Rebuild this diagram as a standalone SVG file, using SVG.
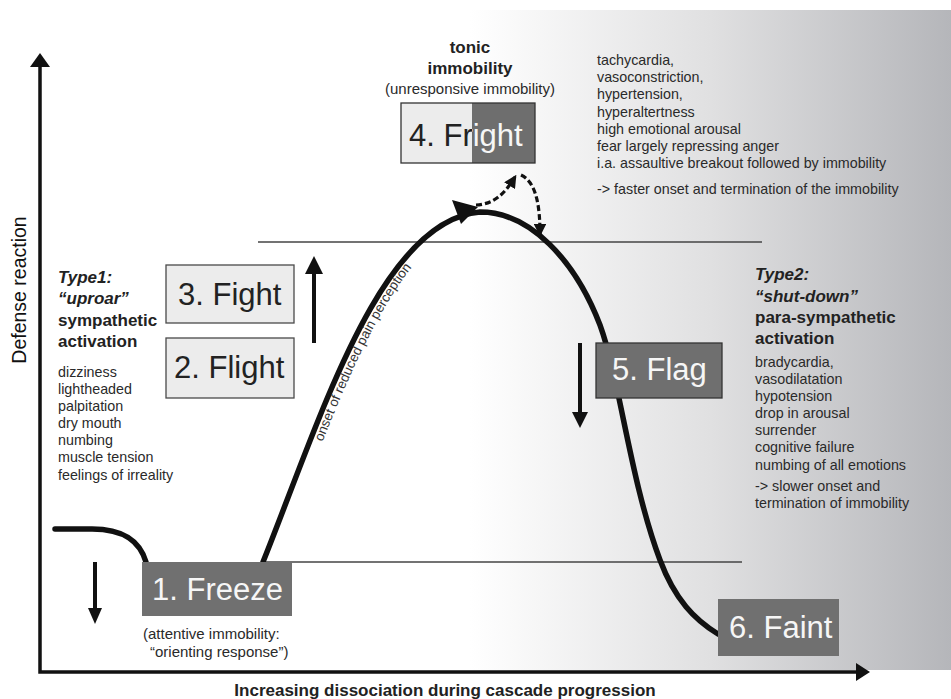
<svg xmlns="http://www.w3.org/2000/svg" width="951" height="699" viewBox="0 0 951 699">
<style>
text{font-family:"Liberation Sans",Arial,sans-serif;}
.h{font-weight:bold;font-size:17px;fill:#222;}
.hi{font-weight:bold;font-style:italic;font-size:17px;fill:#222;}
.l{font-size:14.3px;fill:#2a2a2a;}
.cap{font-size:15px;fill:#2a2a2a;}
.big{font-size:31px;}
.dark{fill:#222;}
.light{fill:#f6f6f6;}
.axis{stroke:#111;stroke-width:3.5;fill:none;}
.ah{fill:#111;}
.curve{stroke:#111;stroke-width:5.5;fill:none;stroke-linecap:round;}
.dash{stroke:#111;stroke-width:3.2;fill:none;stroke-dasharray:6 3;}
.thin{stroke:#444;stroke-width:1.3;}
.sm{stroke:#111;stroke-width:4;}
.boxL{fill:#ececec;stroke:#4a4a4a;stroke-width:1.3;}
.boxD{fill:#707070;}
</style>
<defs>
<linearGradient id="bg" x1="0" y1="0" x2="1" y2="0">
<stop offset="0" stop-color="#ffffff"/>
<stop offset="0.5" stop-color="#e0e0e1"/>
<stop offset="1" stop-color="#b5b6ba"/>
</linearGradient>
<marker id="dh" viewBox="0 0 10 10" refX="8" refY="5" markerWidth="4" markerHeight="4" orient="auto" markerUnits="strokeWidth">
<path d="M0,0 L10,5 L0,10 z" fill="#111"/>
</marker>
<clipPath id="cl"><rect x="401" y="103" width="71" height="60"/></clipPath>
<clipPath id="cr"><rect x="472" y="103" width="63" height="60"/></clipPath>
<path id="tp" d="M 274 567 C 331 425 391 225 491 215"/>
</defs>

<rect x="470" y="10" width="481" height="660" fill="url(#bg)"/>

<g id="axes">
<path class="axis" d="M40 65 L40 672 L860 672"/>
<polygon class="ah" points="40,53 30,67 50,67"/>
<polygon class="ah" points="870,672 856,663 856,681"/>
<text x="26" y="290" transform="rotate(-90 26 290)" text-anchor="middle" style="font-size:19.5px;fill:#111;">Defense reaction</text>
<text x="445" y="696" text-anchor="middle" style="font-size:17px;font-weight:bold;fill:#222;">Increasing dissociation during cascade progression</text>
</g>

<g id="levels">
<line class="thin" x1="258" y1="242" x2="762" y2="242"/>
<line class="thin" x1="265" y1="562" x2="742" y2="562"/>
</g>

<g id="connectors">
<path class="curve" d="M55 529 L92 529 C125 529 140 542 146 562"/>
<path class="curve" d="M263 562 C320 420 380 220 480 212 C530 212 575 260 600 325 C620 380 630 480 660 560 C675 600 695 620 718 634"/>
<polygon class="ah" points="478,207 452,200 461,224"/>
<path class="dash" d="M476 205 C495 204 505 193 515 177" marker-end="url(#dh)"/>
<path class="dash" d="M521 175 C536 182 540 205 540 234" marker-end="url(#dh)"/>
<text style="font-size:13.5px;fill:#333;"><textPath href="#tp" startOffset="134">onset of reduced pain perception</textPath></text>
<line class="sm" x1="314" y1="343" x2="314" y2="270"/>
<polygon class="ah" points="314,256 305,274 323,274"/>
<line class="sm" x1="95" y1="562" x2="95" y2="612"/>
<polygon class="ah" points="95,624 88,608 102,608"/>
<line class="sm" x1="580" y1="343" x2="580" y2="414"/>
<polygon class="ah" points="580,428 572,412 588,412"/>
</g>

<g id="type1">
<text class="hi" x="58" y="283">Type1:</text>
<text class="hi" x="58" y="304">“uproar”</text>
<text class="h" x="58" y="326">sympathetic</text>
<text class="h" x="58" y="347">activation</text>
<text class="l" x="58" y="377">dizziness</text>
<text class="l" x="58" y="394">lightheaded</text>
<text class="l" x="58" y="411">palpitation</text>
<text class="l" x="58" y="428">dry mouth</text>
<text class="l" x="58" y="445">numbing</text>
<text class="l" x="58" y="462">muscle tension</text>
<text class="l" x="58" y="480">feelings of irreality</text>
</g>

<g id="fight">
<rect class="boxL" x="166" y="265" width="128" height="58"/>
<text class="big dark" x="178" y="305">3. Fight</text>
</g>
<g id="flight">
<rect class="boxL" x="166" y="338" width="128" height="60"/>
<text class="big dark" x="174" y="378">2. Flight</text>
</g>

<g id="fright">
<text class="h" x="470" y="53" text-anchor="middle">tonic</text>
<text class="h" x="470" y="74" text-anchor="middle">immobility</text>
<text class="cap" x="470" y="94" text-anchor="middle">(unresponsive immobility)</text>
<rect x="401" y="103" width="71" height="60" fill="#ececec"/>
<rect x="472" y="103" width="63" height="60" fill="#6e6e6e"/>
<rect x="401" y="103" width="134" height="60" fill="none" stroke="#333" stroke-width="1.3"/>
<text class="big dark" x="409" y="146" clip-path="url(#cl)">4. Fright</text>
<text class="big light" x="409" y="146" clip-path="url(#cr)">4. Fright</text>
</g>

<g id="fright-notes">
<text class="l" x="597" y="65">tachycardia,</text>
<text class="l" x="597" y="82">vasoconstriction,</text>
<text class="l" x="597" y="99">hypertension,</text>
<text class="l" x="597" y="117">hyperaltertness</text>
<text class="l" x="597" y="134">high emotional arousal</text>
<text class="l" x="597" y="151">fear largely repressing anger</text>
<text class="l" x="597" y="168">i.a. assaultive breakout followed by immobility</text>
<text class="l" x="597" y="194">-&gt; faster onset and termination of the immobility</text>
</g>

<g id="type2">
<text class="hi" x="755" y="280">Type2:</text>
<text class="hi" x="755" y="302">“shut-down”</text>
<text class="h" x="755" y="323">para-sympathetic</text>
<text class="h" x="755" y="344">activation</text>
<text class="l" x="755" y="367">bradycardia,</text>
<text class="l" x="755" y="384">vasodilatation</text>
<text class="l" x="755" y="401">hypotension</text>
<text class="l" x="755" y="418">drop in arousal</text>
<text class="l" x="755" y="435">surrender</text>
<text class="l" x="755" y="452">cognitive failure</text>
<text class="l" x="755" y="470">numbing of all emotions</text>
<text class="l" x="755" y="491">-&gt; slower onset and</text>
<text class="l" x="755" y="508">termination of immobility</text>
</g>

<g id="flag">
<rect x="596" y="343" width="126" height="55" fill="#6f6f6f" stroke="#333" stroke-width="1.3"/>
<text class="big light" x="612" y="380">5. Flag</text>
</g>

<g id="freeze">
<rect class="boxD" x="142" y="562" width="150" height="54"/>
<text class="big light" x="152" y="600">1. Freeze</text>
<text class="cap" x="143" y="639">(attentive immobility:</text>
<text class="cap" x="150" y="657">“orienting response”)</text>
</g>

<g id="faint">
<rect class="boxD" x="718" y="599" width="121" height="57"/>
<text class="big light" x="729" y="638">6. Faint</text>
</g>
</svg>
